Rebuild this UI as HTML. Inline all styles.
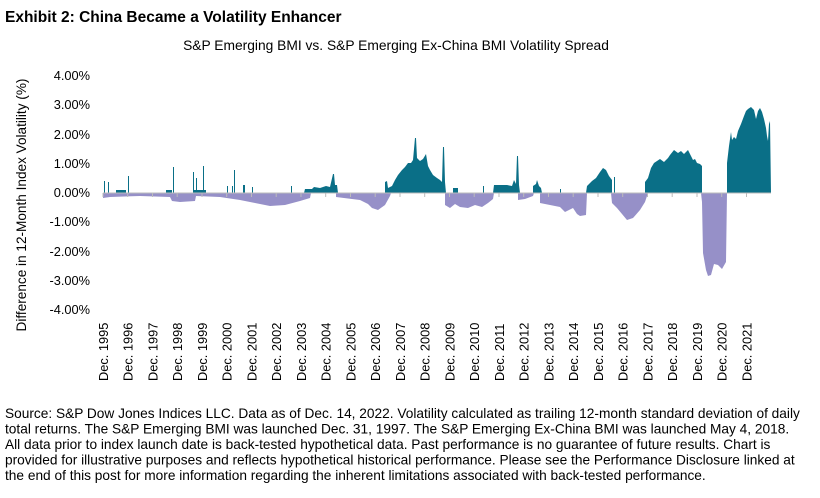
<!DOCTYPE html>
<html><head><meta charset="utf-8"><style>
body{margin:0;background:#fff;width:820px;height:493px;overflow:hidden;font-family:"Liberation Sans",Arial,sans-serif;}
</style></head><body>
<svg width="820" height="493" xmlns="http://www.w3.org/2000/svg" font-family="Liberation Sans, Arial, sans-serif">
<text x="5" y="22" font-size="15.5" font-weight="bold" fill="#000">Exhibit 2: China Became a Volatility Enhancer</text>
<text x="396" y="50" font-size="13.8" text-anchor="middle" fill="#000">S&amp;P Emerging BMI vs. S&amp;P Emerging Ex-China BMI Volatility Spread</text>
<g font-size="12.8" text-anchor="end" fill="#000">
<text x="90" y="80">4.00%</text><text x="90" y="109">3.00%</text><text x="90" y="139">2.00%</text><text x="90" y="168">1.00%</text><text x="90" y="197">0.00%</text><text x="90" y="226">-1.00%</text><text x="90" y="256">-2.00%</text><text x="90" y="285">-3.00%</text><text x="90" y="314">-4.00%</text>
</g>
<text transform="translate(26,205) rotate(-90)" font-size="13.6" text-anchor="middle">Difference in 12-Month Index Volatility (%)</text>
<path fill="#9690c8" d="M103,193 L103,198 L110,197 L140,196 L170,197 L172,201 L180,202 L195,201 L196,196 L220,197 L240,200 L255,203 L270,206 L285,205 L300,201 L310,198 L311,193 Z"/>
<path fill="#9690c8" d="M336,193 L336,197 L360,200 L368,204 L372,208 L378,210 L385,205 L390,196 L391,193 Z"/>
<path fill="#9690c8" d="M445,193 L445,205 L450,208 L455,204 L460,207 L468,208 L475,205 L482,207 L488,203 L493,199 L494,193 Z"/>
<path fill="#9690c8" d="M518,193 L518,200 L525,199 L533,196 L534,193 Z"/>
<path fill="#9690c8" d="M540,193 L540,203 L550,205 L560,207 L565,212 L573,208 L577,214 L580,216 L586,215 L587,193 Z"/>
<path fill="#9690c8" d="M611,193 L612,203 L617,208 L622,214 L627,220 L633,218 L640,210 L645,202 L647,196 L647,193 Z"/>
<path fill="#9690c8" d="M701,193 L702,202 L703,253 L706,270 L708,276 L711,275 L714,264 L718,265 L722,269 L726,262 L727,193 Z"/>
<g fill="#0a6f87">
<rect x="104" y="181" width="1" height="12"/><rect x="108" y="182" width="1" height="11"/><rect x="128" y="176" width="1" height="17"/><rect x="116" y="190" width="10" height="3"/>
<rect x="166" y="190" width="6" height="3"/><rect x="173" y="167" width="1" height="26"/>
<rect x="193" y="172" width="1" height="21"/><rect x="194" y="190" width="12" height="3"/><rect x="196" y="178" width="1" height="15"/><rect x="203" y="166" width="1" height="27"/>
<rect x="227" y="186" width="1" height="7"/><rect x="232" y="186" width="1" height="7"/><rect x="234" y="170" width="1" height="23"/><rect x="243" y="185" width="2" height="8"/><rect x="252" y="187" width="1" height="6"/><rect x="291" y="186" width="1" height="7"/>
<rect x="483" y="186" width="1" height="7"/><rect x="614" y="177" width="1" height="16"/><rect x="560" y="189" width="1" height="4"/>
</g>
<path fill="#0a6f87" d="M304,193 L305,189 L312,189 L314,187 L320,188 L326,186 L330,187 L333,174 L334,174 L335,185 L337,185 L338,193 Z"/>
<path fill="#0a6f87" d="M385,193 L385,182 L387,181 L388,188 L392,186 L395,180 L398,175 L402,170 L405,167 L408,163 L411,163 L413,160 L415,138 L416,138 L417,158 L420,161 L423,159 L426,154 L428,166 L430,170 L433,175 L437,178 L440,180 L442,182 L443,147 L444,147 L445,182 L446,193 Z"/>
<path fill="#0a6f87" d="M453,193 L453,188 L458,188 L458,193 Z"/>
<path fill="#0a6f87" d="M493,193 L494,185 L500,185 L507,185 L512,186 L514,180 L516,184 L517,156 L518,156 L519,185 L520,193 Z"/>
<path fill="#0a6f87" d="M533,193 L533,186 L536,184 L537,180 L539,186 L541,188 L542,193 Z"/>
<path fill="#0a6f87" d="M586,193 L587,186 L592,181 L596,178 L600,172 L603,168 L606,170 L609,176 L612,180 L612,193 Z"/>
<path fill="#0a6f87" d="M645,193 L645,182 L648,178 L651,168 L654,163 L657,161 L660,159 L664,162 L668,158 L670,155 L674,150 L678,153 L681,151 L684,154 L688,150 L691,156 L693,160 L695,159 L697,163 L700,164 L702,166 L702,193 Z"/>
<path fill="#0a6f87" d="M727,193 L727,163 L729,146 L731,132 L732,140 L734,137 L736,139 L738,131 L741,124 L744,116 L746,111 L748,109 L751,107 L754,110 L756,119 L758,111 L760,108 L762,112 L764,119 L766,128 L767,136 L768,141 L769,124 L770,121 L771,193 Z"/>
<line x1="103" y1="193" x2="771" y2="193" stroke="#bbb" stroke-width="1"/>
<g stroke="#bbb" stroke-width="1">
<path d="M103,193v4M127.7,193v4M152.5,193v4M177.2,193v4M202,193v4M226.7,193v4M251.5,193v4M276.2,193v4M301,193v4M325.7,193v4M350.5,193v4M375.2,193v4M400,193v4M424.7,193v4M449.5,193v4M474.2,193v4M499,193v4M523.7,193v4M548.5,193v4M573.2,193v4M598,193v4M622.7,193v4M647.5,193v4M672.2,193v4M697,193v4M721.7,193v4M746.5,193v4"/>
</g>
<g font-size="12.8" fill="#000">
<text transform="translate(108,381) rotate(-90)">Dec. 1995</text>
<text transform="translate(132.7,381) rotate(-90)">Dec. 1996</text>
<text transform="translate(157.5,381) rotate(-90)">Dec. 1997</text>
<text transform="translate(182.2,381) rotate(-90)">Dec. 1998</text>
<text transform="translate(207,381) rotate(-90)">Dec. 1999</text>
<text transform="translate(231.7,381) rotate(-90)">Dec. 2000</text>
<text transform="translate(256.5,381) rotate(-90)">Dec. 2001</text>
<text transform="translate(281.2,381) rotate(-90)">Dec. 2002</text>
<text transform="translate(306,381) rotate(-90)">Dec. 2003</text>
<text transform="translate(330.7,381) rotate(-90)">Dec. 2004</text>
<text transform="translate(355.5,381) rotate(-90)">Dec. 2005</text>
<text transform="translate(380.2,381) rotate(-90)">Dec. 2006</text>
<text transform="translate(405,381) rotate(-90)">Dec. 2007</text>
<text transform="translate(429.7,381) rotate(-90)">Dec. 2008</text>
<text transform="translate(454.5,381) rotate(-90)">Dec. 2009</text>
<text transform="translate(479.2,381) rotate(-90)">Dec. 2010</text>
<text transform="translate(504,381) rotate(-90)">Dec. 2011</text>
<text transform="translate(528.7,381) rotate(-90)">Dec. 2012</text>
<text transform="translate(553.5,381) rotate(-90)">Dec. 2013</text>
<text transform="translate(578.2,381) rotate(-90)">Dec. 2014</text>
<text transform="translate(603,381) rotate(-90)">Dec. 2015</text>
<text transform="translate(627.7,381) rotate(-90)">Dec. 2016</text>
<text transform="translate(652.5,381) rotate(-90)">Dec. 2017</text>
<text transform="translate(677.2,381) rotate(-90)">Dec. 2018</text>
<text transform="translate(702,381) rotate(-90)">Dec. 2019</text>
<text transform="translate(726.7,381) rotate(-90)">Dec. 2020</text>
<text transform="translate(751.5,381) rotate(-90)">Dec. 2021</text>
</g>
<g font-size="13.7" fill="#000">
<text x="5" y="418">Source: S&amp;P Dow Jones Indices LLC. Data as of Dec. 14, 2022. Volatility calculated as trailing 12-month standard deviation of daily</text>
<text x="5" y="433.5">total returns.  The S&amp;P Emerging BMI was launched Dec. 31, 1997. The S&amp;P Emerging Ex-China BMI was launched May 4, 2018.</text>
<text x="5" y="449">All data prior to index launch date is back-tested hypothetical data. Past performance is no guarantee of future results. Chart is</text>
<text x="5" y="464.5">provided for illustrative purposes and reflects hypothetical historical performance. Please see the Performance Disclosure linked at</text>
<text x="5" y="480">the end of this post for more information regarding the inherent limitations associated with back-tested performance.</text>
</g>
</svg>
</body></html>
